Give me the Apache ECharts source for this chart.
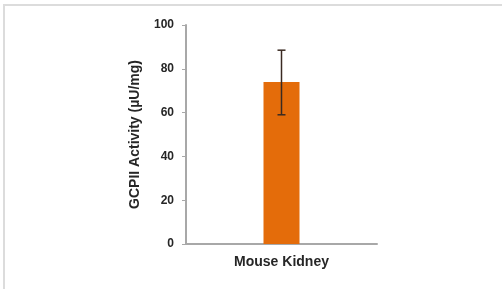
<!DOCTYPE html>
<html><head><meta charset="utf-8">
<script src="https://cdn.jsdelivr.net/npm/echarts@6/dist/echarts.min.js"></script>
<style>html,body{margin:0;padding:0;background:#fff;}#c{width:502px;height:289px;}</style>
</head><body><div id="c"></div>
<script>
var categories = ['Mouse Kidney'];
var values = [74];
var errLow = [59];
var errHigh = [88.5];
var yTicks = {min: 0, max: 100, interval: 20};

var chart = echarts.init(document.getElementById('c'), null, {renderer: 'canvas'});
var errData = categories.map(function (c, i) { return [i, errLow[i], errHigh[i]]; });
chart.setOption({
  animation: false,
  graphic: [
    {type: 'rect', shape: {x: 3, y: 4, width: 2, height: 285}, style: {fill: '#dcdcdc'}},
    {type: 'rect', shape: {x: 3, y: 4, width: 499, height: 2}, style: {fill: '#dcdcdc'}}
  ],
  grid: {left: 186, right: 125, top: 25, bottom: 45},
  xAxis: {
    type: 'category', data: categories,
    axisLine: {lineStyle: {color: '#a8a8a8', width: 2}},
    axisTick: {show: false},
    axisLabel: {color: '#262626', fontWeight: 'bold', fontSize: 14, fontFamily: 'Liberation Sans, Arial', margin: 11}
  },
  yAxis: {
    type: 'value', min: yTicks.min, max: yTicks.max, interval: yTicks.interval,
    name: 'GCPII Activity (µU/mg)', nameLocation: 'middle', nameGap: 44,
    nameTextStyle: {color: '#262626', fontWeight: 'bold', fontSize: 14, fontFamily: 'Liberation Sans, Arial'},
    axisLine: {show: true, lineStyle: {color: '#a8a8a8', width: 2}},
    axisTick: {show: true, length: 4, lineStyle: {color: '#a8a8a8', width: 1}},
    splitLine: {show: false},
    axisLabel: {color: '#262626', fontWeight: 'bold', fontSize: 12, fontFamily: 'Liberation Sans, Arial', margin: 12}
  },
  series: [
    {type: 'bar', data: values, barWidth: 36, itemStyle: {color: '#E46C0A'}},
    {
      type: 'custom', data: errData, z: 10,
      renderItem: function (params, api) {
        var x = api.value(0);
        var lo = api.coord([x, api.value(1)]);
        var hi = api.coord([x, api.value(2)]);
        var hw = 4;
        var st = {stroke: '#3a2a22', lineWidth: 1.5};
        return {type: 'group', children: [
          {type: 'line', shape: {x1: hi[0], y1: hi[1], x2: lo[0], y2: lo[1]}, style: st},
          {type: 'line', shape: {x1: hi[0] - hw, y1: hi[1], x2: hi[0] + hw, y2: hi[1]}, style: st},
          {type: 'line', shape: {x1: lo[0] - hw, y1: lo[1], x2: lo[0] + hw, y2: lo[1]}, style: st}
        ]};
      }
    }
  ]
});
</script></body></html>
